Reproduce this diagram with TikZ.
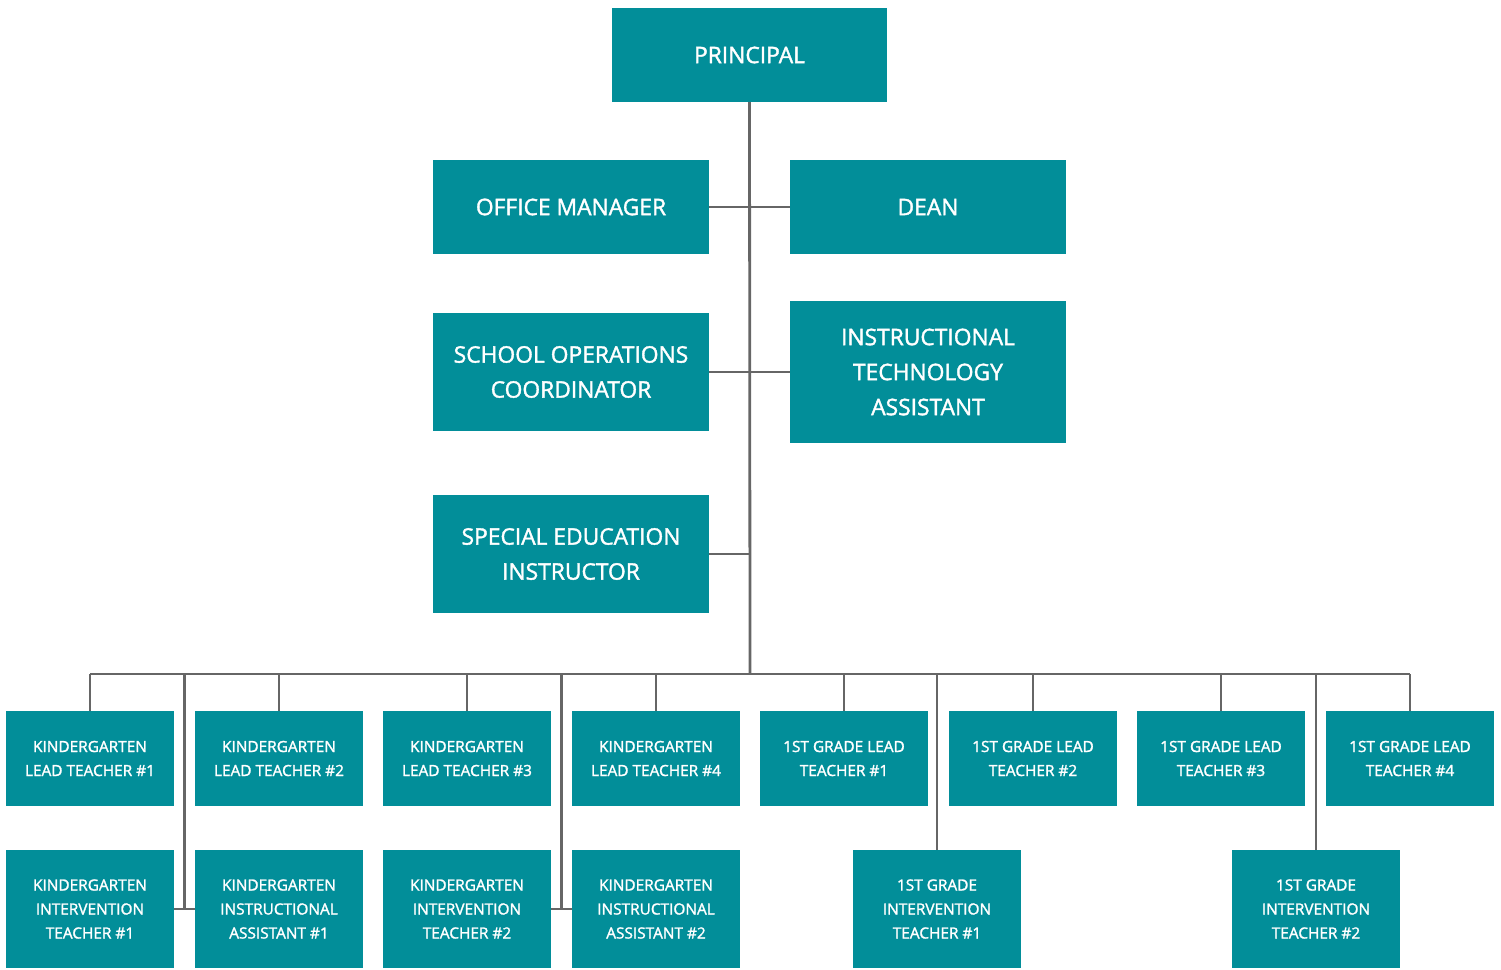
\documentclass[tikz,border=0pt]{standalone}
\usepackage{fontspec}
\setmainfont{Open Sans}[FakeBold=1.6]
\usetikzlibrary{calc}
\definecolor{boxteal}{HTML}{028E99}
\definecolor{linegray}{HTML}{666666}
\begin{document}
\begin{tikzpicture}[x=1pt,y=-1pt,
  box/.style={fill=boxteal, text=white, align=center, inner sep=0pt, draw=none},
  topbox/.style={box, minimum width=276pt, font=\fontsize{22.8}{35}\selectfont},
  lowbox/.style={box, minimum width=168pt, font=\fontsize{15.4}{24}\selectfont},
  row1/.style={lowbox, minimum height=95pt},
  row2/.style={lowbox, minimum height=118pt},
  conn/.style={draw=linegray, line width=2.8pt}]
\useasboundingbox (0,0) rectangle (1501,969);
% top level
\node[topbox, minimum width=275pt, minimum height=94pt] (pr) at (749.5,55) {PRINCIPAL};
\node[topbox, minimum height=94pt] (om) at (571,207) {OFFICE MANAGER};
\node[topbox, minimum height=94pt] (dn) at (928,207) {DEAN};
\node[topbox, minimum height=118pt] (so) at (571,372) {SCHOOL OPERATIONS\\COORDINATOR};
\node[topbox, minimum height=142pt] (it) at (928,372) {INSTRUCTIONAL\\TECHNOLOGY\\ASSISTANT};
\node[topbox, minimum height=118pt] (se) at (571,554) {SPECIAL EDUCATION\\INSTRUCTOR};
% row 1
\node[row1] (k1) at (90,758.5) {KINDERGARTEN\\LEAD TEACHER \#1};
\node[row1] (k2) at (279,758.5) {KINDERGARTEN\\LEAD TEACHER \#2};
\node[row1] (k3) at (467,758.5) {KINDERGARTEN\\LEAD TEACHER \#3};
\node[row1] (k4) at (656,758.5) {KINDERGARTEN\\LEAD TEACHER \#4};
\node[row1] (g1) at (844,758.5) {1ST GRADE LEAD\\TEACHER \#1};
\node[row1] (g2) at (1033,758.5) {1ST GRADE LEAD\\TEACHER \#2};
\node[row1] (g3) at (1221,758.5) {1ST GRADE LEAD\\TEACHER \#3};
\node[row1] (g4) at (1410,758.5) {1ST GRADE LEAD\\TEACHER \#4};
% row 2
\node[row2] (ki1) at (90,909) {KINDERGARTEN\\INTERVENTION\\TEACHER \#1};
\node[row2] (ka1) at (279,909) {KINDERGARTEN\\INSTRUCTIONAL\\ASSISTANT \#1};
\node[row2] (ki2) at (467,909) {KINDERGARTEN\\INTERVENTION\\TEACHER \#2};
\node[row2] (ka2) at (656,909) {KINDERGARTEN\\INSTRUCTIONAL\\ASSISTANT \#2};
\node[row2] (gi1) at (937,909) {1ST GRADE\\INTERVENTION\\TEACHER \#1};
\node[row2] (gi2) at (1316,909) {1ST GRADE\\INTERVENTION\\TEACHER \#2};
% connectors
\coordinate (bus) at (750,674);
\coordinate (j1) at ($(ki1.east)!0.5!(ka1.west)$);
\coordinate (j2) at ($(ki2.east)!0.5!(ka2.west)$);
\draw[conn] (pr.south) -- (bus);
\draw[conn] (om.east) -- (dn.west);
\draw[conn] (so.east) -- (it.west);
\draw[conn] (se.east) -- (se.east -| bus);
\draw[conn] (k1.north |- bus) -- (g4.north |- bus);
\foreach \n in {k1,k2,k3,k4,g1,g2,g3,g4,gi1,gi2}{
  \draw[conn] (\n.north) -- (\n.north |- bus);
}
\draw[conn] (ki1.east) -- (ka1.west);
\draw[conn] (ki2.east) -- (ka2.west);
\draw[conn] (j1) -- (j1 |- bus);
\draw[conn] (j2) -- (j2 |- bus);
\end{tikzpicture}
\end{document}
